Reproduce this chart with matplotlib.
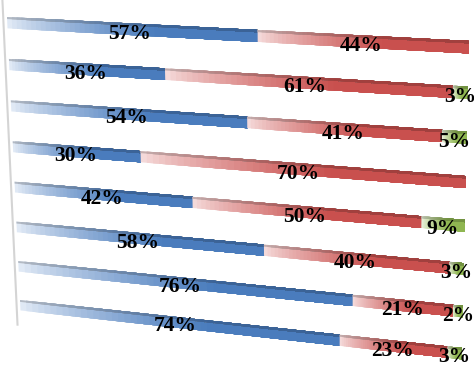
import numpy as np
import matplotlib
matplotlib.use("Agg")
from matplotlib import pyplot as plt
from matplotlib.transforms import Transform
from matplotlib.colors import to_rgb

# share per row, top to bottom (100% stacked)
blue = [57, 36, 54, 30, 42, 58, 76, 74]
red = [44, 61, 41, 70, 50, 40, 21, 23]
green = [0, 3, 5, 0, 9, 3, 2, 3]

colors = [("#e6edf7", "#4a7cbd"), ("#f6dede", "#c9504e"), ("#eef4e2", "#8fb651")]
bar_h = 0.27


class Persp(Transform):
    input_dims = output_dims = 2

    def __init__(self, H):
        super().__init__()
        self.H = H

    def transform_non_affine(self, pts):
        pts = np.asarray(pts, float).reshape(-1, 2)
        p = np.c_[pts, np.ones(len(pts))] @ self.H.T
        return p[:, :2] / p[:, 2:3]


def homography(src, dst):
    A, b = [], []
    for (x, y), (X, Y) in zip(src, dst):
        A.append([x, y, 1, 0, 0, 0, -X * x, -X * y]); b.append(X)
        A.append([0, 0, 0, x, y, 1, -Y * x, -Y * y]); b.append(Y)
    h = np.linalg.solve(np.array(A, float), np.array(b, float))
    return np.append(h, 1).reshape(3, 3)


fig = plt.figure(figsize=(4.74, 3.70), dpi=100)
ax = fig.add_axes([0, 0, 1, 1])
ax.set_xlim(0, 474)
ax.set_ylim(370, 0)
ax.axis("off")

# perspective: (percent, row) -> pixel
H = homography([(0, 0), (100, 0), (0, 7), (100, 7)],
               [(7, 17), (469, 41), (20, 300), (462, 348)])
tr = Persp(H) + ax.transData

ax.plot([-0.9, -0.9], [-0.4, 7.65], color="#d4d4d4", lw=1.5, transform=tr)

n = 50
for i in range(len(blue)):
    vals = [blue[i], red[i], green[i]]
    total = sum(vals)
    start = 0
    for v, (c0, c1) in zip(vals, colors):
        if v == 0:
            continue
        w = v / total * 100
        k = np.arange(n)
        t = np.clip((k + 0.5) / n / 0.6, 0, 1) ** 0.8
        a, b = np.array(to_rgb(c0)), np.array(to_rgb(c1))
        cols = [tuple(a + (b - a) * tt) for tt in t]
        dark = [tuple((a + (b - a) * tt) * 0.8) for tt in t]
        lefts = start + w * k / n
        # each slice runs to the segment end so later slices cover the seams
        ax.barh(np.full(n, i), start + w - lefts, left=lefts, height=bar_h,
                align="edge", color=cols, linewidth=0, transform=tr)
        ax.barh(np.full(n, i), start + w - lefts, left=lefts, height=bar_h * 0.18,
                align="edge", color=dark, linewidth=0, transform=tr)
        ax.text(start + w / 2, i + bar_h * 0.9, f"{v}%", ha="center", va="center",
                fontsize=15.5, fontweight="bold", family="Liberation Serif",
                color="black", transform=tr)
        start += w

fig.savefig("out.png", dpi=100)
